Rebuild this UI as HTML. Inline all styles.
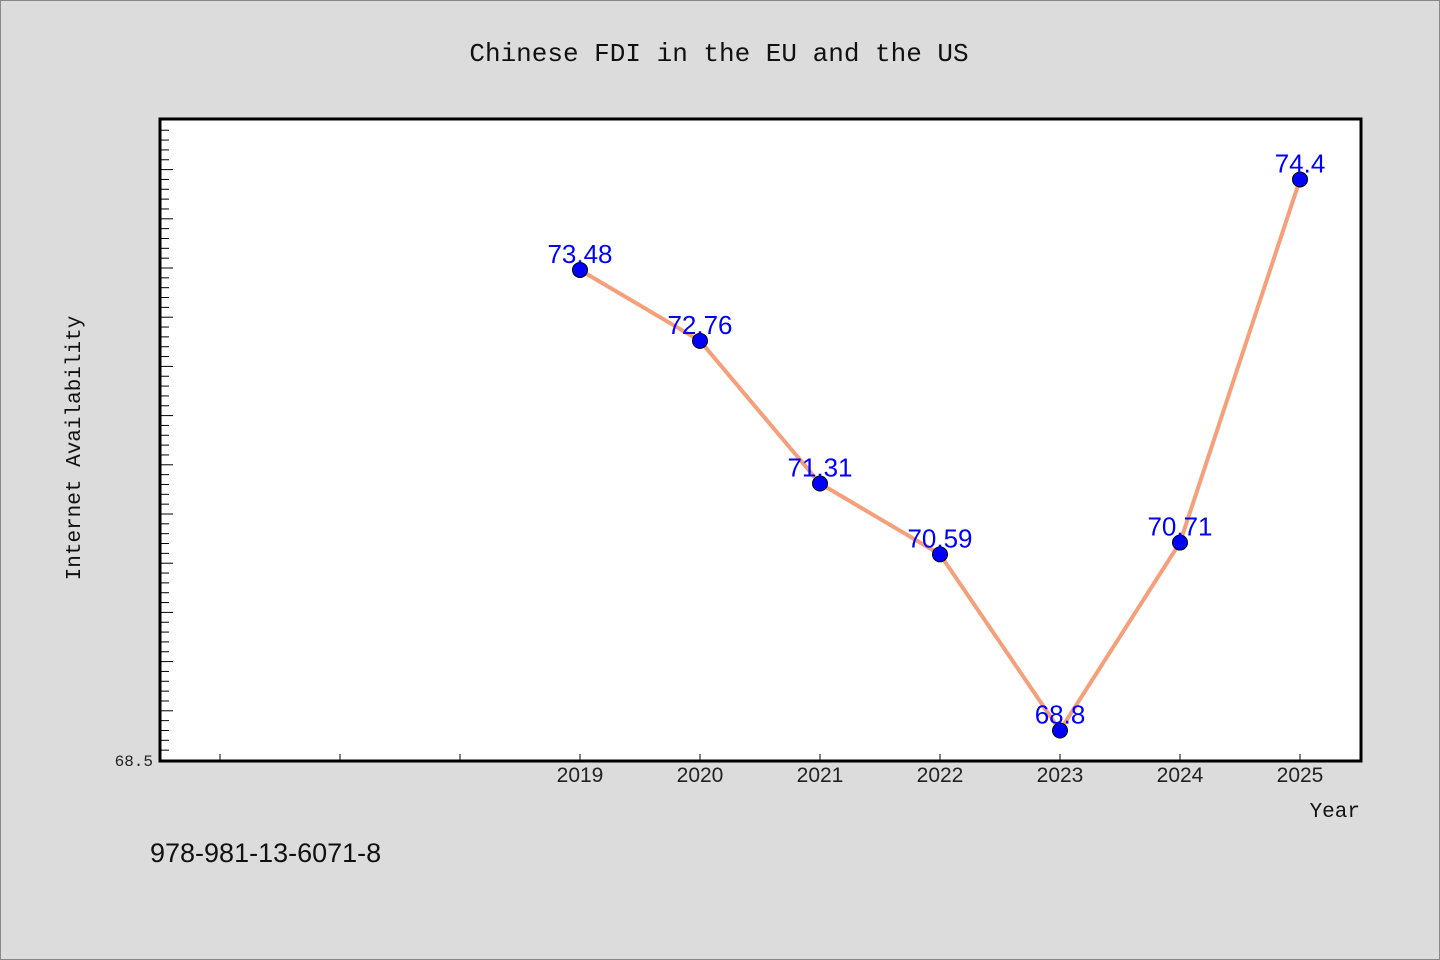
<!DOCTYPE html>
<html><head><meta charset="utf-8"><style>
body{margin:0;background:#dcdcdc;}
svg{display:block;font-family:"Liberation Mono","Noto Sans CJK SC",monospace;}
</style></head><body>
<svg width="1440" height="960" viewBox="0 0 1440 960">
<rect x="0.5" y="0.5" width="1439" height="959" fill="#dcdcdc" stroke="#888"/>
<text x="719" y="61" text-anchor="middle" font-size="26" fill="#111">Chinese FDI in the EU and the US</text>
<rect x="160" y="119" width="1201" height="642" fill="#fff"/>
<g id="ticks"></g>
<g id="marks"></g>
<path d="M160,119 H1361 V761 H160 Z" fill="none" stroke="#000" stroke-width="3"/>
<text x="80" y="448" transform="rotate(-90 80 448)" text-anchor="middle" font-size="21" fill="#111">Internet Availability</text>
<text x="1360" y="817" text-anchor="end" font-size="21" fill="#111">Year</text>
<text x="150" y="862" font-family="Liberation Sans, sans-serif" font-size="27" fill="#111">978-981-13-6071-8</text>
</svg>
<script>
const years=[2019,2020,2021,2022,2023,2024,2025];
const values=[73.48,72.76,71.31,70.59,68.8,70.71,74.4];
const valueLabels=["73.48","72.76","71.31","70.59","68.8","70.71","74.4"];
const yTickLabels=["68.5"];
const NS="http://www.w3.org/2000/svg";
function xs(v){return 160+(v-2015.5)*120;}
function ys(v){return 760-(v-68.5)*98.4;}
function mk(tag,attrs,parent){const e=document.createElementNS(NS,tag);for(const k in attrs)e.setAttribute(k,attrs[k]);parent.appendChild(e);return e;}
const tg=document.getElementById('ticks'),mg=document.getElementById('marks');
for(let i=1;i<=64;i++){
  const v=68.5+i*0.1;const y=ys(v);const major=i%5===0;
  const t=mk('line',{x1:161,x2:major?173:169,y1:y,y2:y,stroke:'#000','stroke-width':1},tg);
  
  
}
const yl=mk('text',{x:153,y:766,'text-anchor':'end','font-size':16,fill:'#222'},tg);yl.textContent=yTickLabels[0];


for(let yr=2016;yr<=2025;yr++){
  const x=xs(yr);
  const t=mk('line',{x1:x,x2:x,y1:760,y2:754,stroke:'#000','stroke-width':1},tg);
  
  
}
years.forEach(yr=>{
  const t=mk('text',{x:xs(yr),y:782,'text-anchor':'middle','font-size':21,'font-family':'Liberation Sans, sans-serif',fill:'#222'},tg);t.textContent=yr;
  
  
});
const pts=years.map((y,i)=>xs(y)+','+ys(values[i])).join(' ');
const pl=mk('polyline',{points:pts,fill:'none',stroke:'#f5a07a','stroke-width':4,'stroke-linejoin':'round'},mg);


years.forEach((yr,i)=>{
  const c=mk('circle',{cx:xs(yr),cy:ys(values[i]),r:7.5,fill:'#0000ff',stroke:'#000','stroke-width':1},mg);
  
  
  const t=mk('text',{x:xs(yr),y:ys(values[i])-7,'text-anchor':'middle','font-size':26,'font-family':'Liberation Sans, sans-serif',fill:'#0000ff'},mg);t.textContent=valueLabels[i];
  
  
});
</script>
</body></html>
